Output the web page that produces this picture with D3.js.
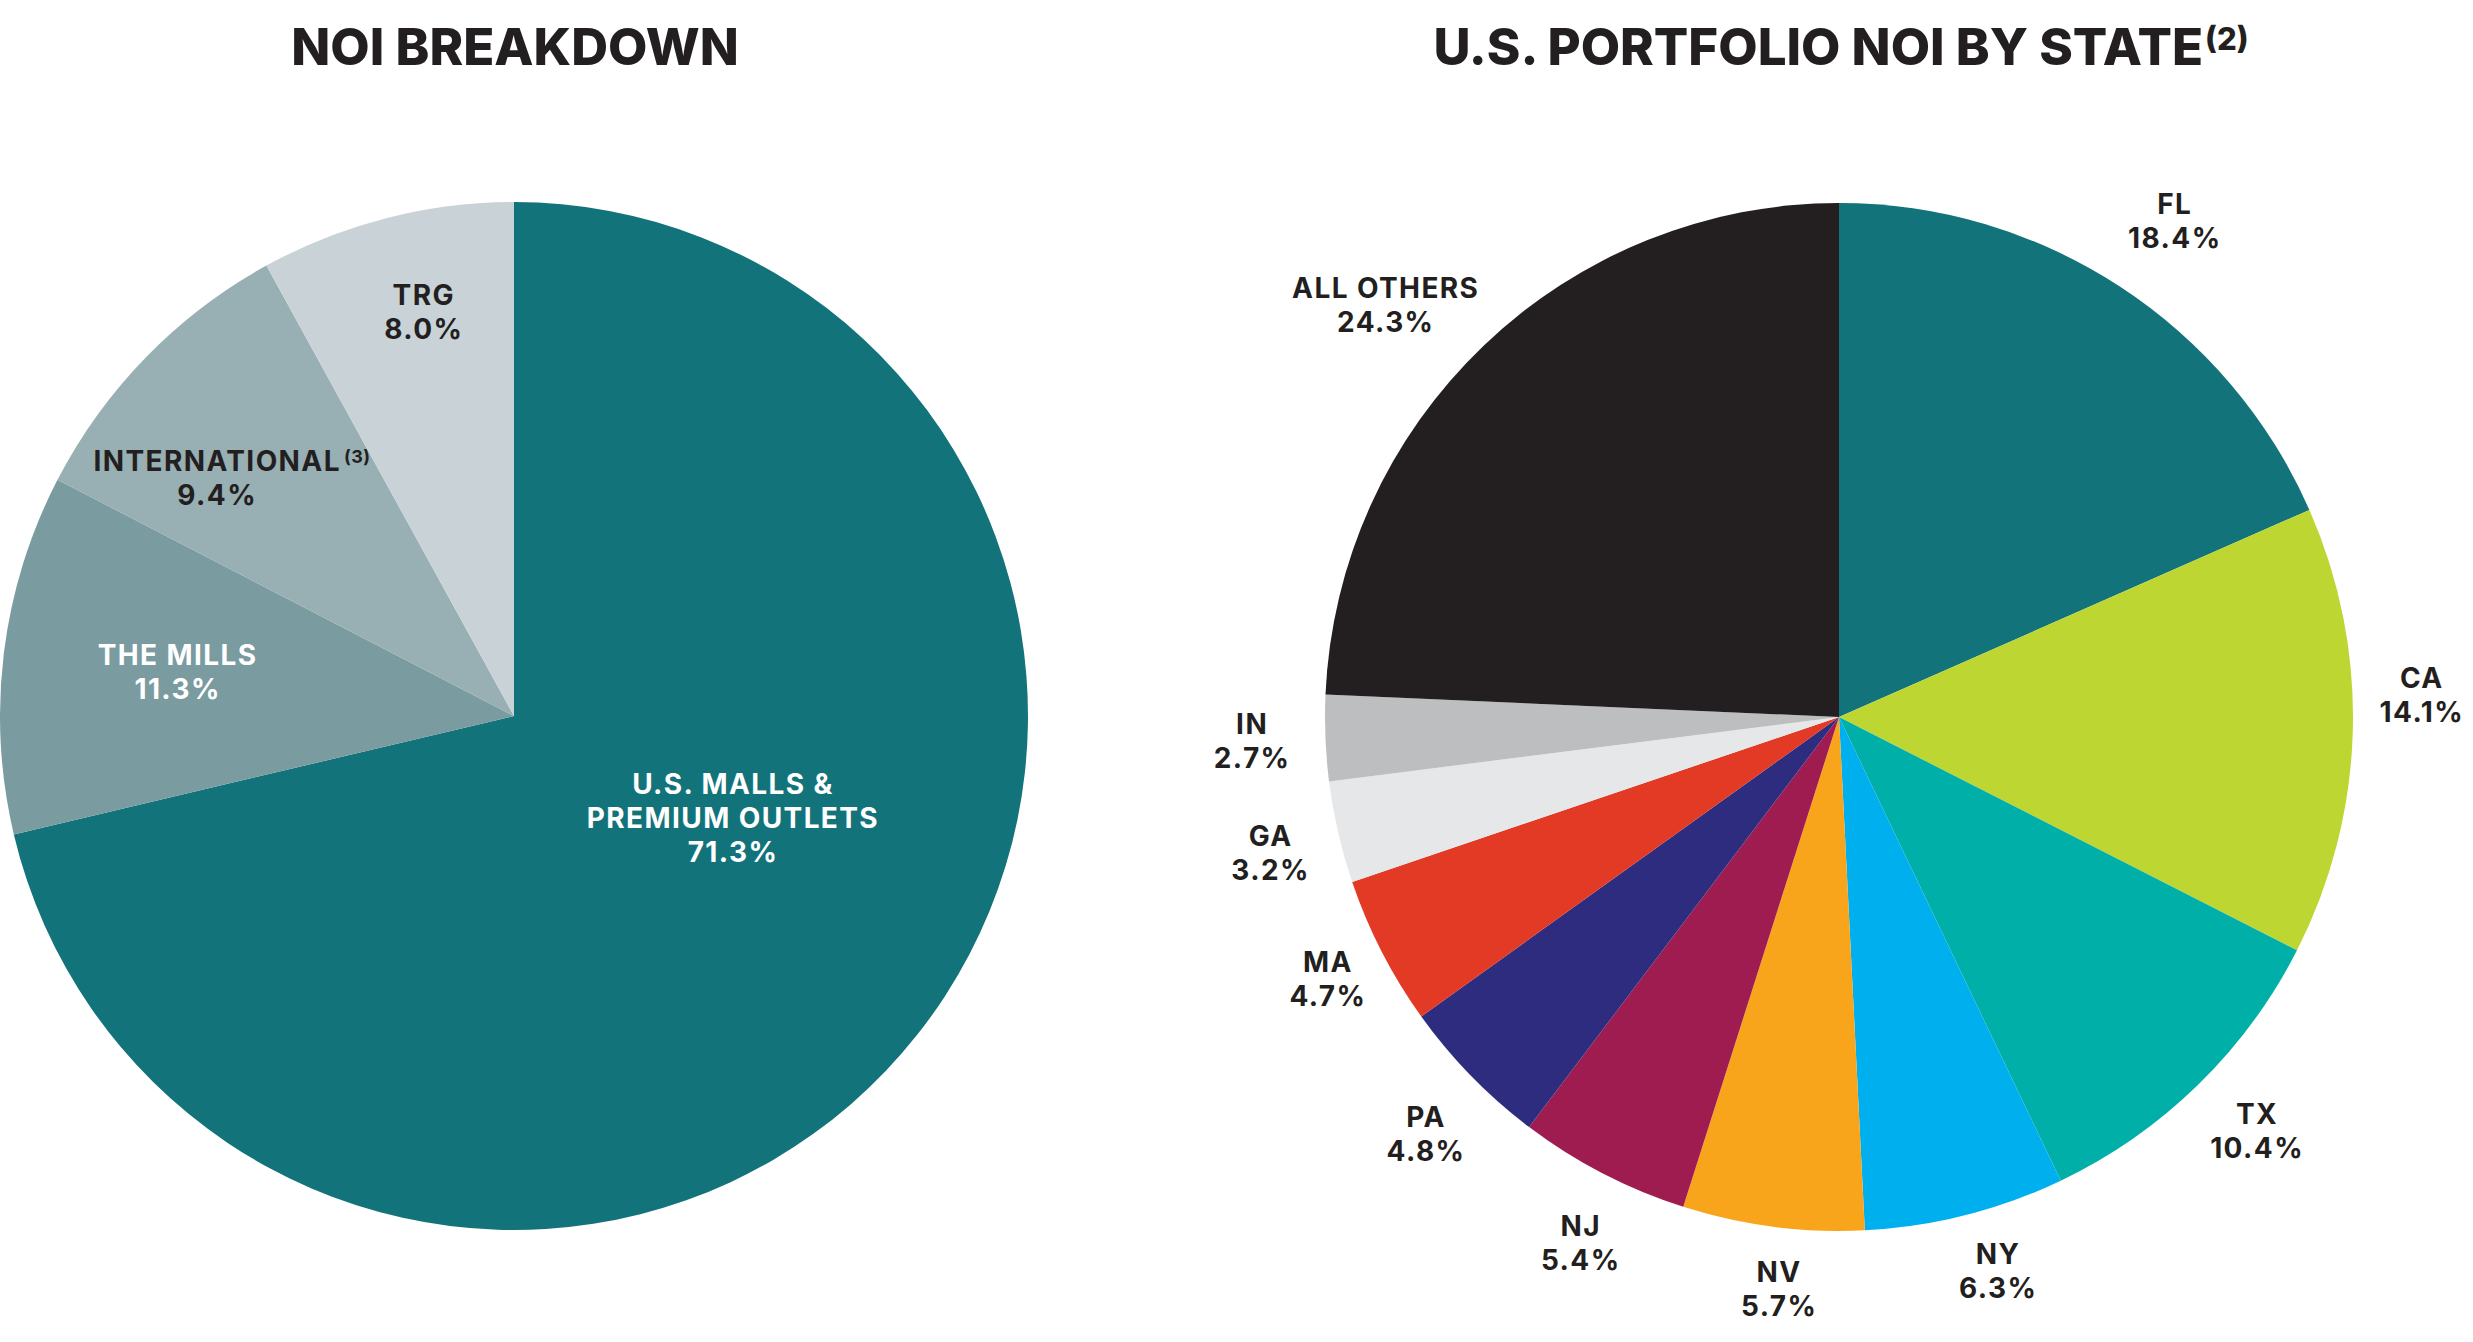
<!DOCTYPE html>
<html lang="en">
<head>
  <meta charset="UTF-8">
  <title>NOI Breakdown</title>
  <script src="https://d3js.org/d3.v7.min.js"></script>
  <style>
    body {
      margin: 0;
      background: #ffffff;
      font-family: 'Inter', 'Lato', sans-serif;
    }
    svg { display: block; }
    .title { font-weight: 800; fill: #231f20; }
    .lbl { font-weight: 700; letter-spacing: 1.4px; }
  </style>
</head>
<body>
  <div id="chart"></div>

  <script>
    // NOI breakdown (left pie)
    const noiNames = [["U.S. MALLS &", "PREMIUM OUTLETS"], ["THE MILLS"], ["INTERNATIONAL"], ["TRG"]];
    const noiNotes = ["", "", "(3)", ""];
    const noiValues = [71.3, 11.3, 9.4, 8.0];
    const noiColors = ["#13737a", "#7a9ba0", "#98afb3", "#c9d3d7"];
    const noiText = ["#ffffff", "#ffffff", "#231f20", "#231f20"];

    // U.S. portfolio NOI by state (right pie)
    const states = ["FL", "CA", "TX", "NY", "NV", "NJ", "PA", "MA", "GA", "IN", "ALL OTHERS"];
    const stateValues = [18.4, 14.1, 10.4, 6.3, 5.7, 5.4, 4.8, 4.7, 3.2, 2.7, 24.3];
    const stateColors = ["#13737a", "#bdd631", "#00b0a8", "#00b0ee", "#f9a51b", "#9e1c50",
                         "#2e2c7e", "#e23a24", "#e6e7e8", "#bcbec0", "#231f20"];

    // where the labels sit inside the left pie: [radius factor, angle in degrees]
    const noiLabelPos = [[0.47, 115], [0.66, 277.4], [0.74, 308.7], [0.805, 347.4]];
    // hand nudges for the outside labels: [degrees, px]
    const stateNudge = {
      "FL": [1, 10], "CA": [-3.8, 0], "TX": [-1, -4], "NY": [-1.8, 0], "NV": [-1.4, 4],
      "NJ": [-1.2, 4], "PA": [-1, 0], "MA": [0, -12], "GA": [-0.5, 0], "IN": [0, 8],
      "ALL OTHERS": [-4, -15]
    };

    const W = 2473, H = 1342;
    const R = 514;
    const lineH = 34;
    const fmt = d3.format(".1f");

    const svg = d3.select("#chart").append("svg").attr("width", W).attr("height", H);

    // ---- titles
    svg.append("text").attr("class", "title")
      .attr("x", 515).attr("y", 65)
      .attr("text-anchor", "middle")
      .style("font-size", "51px")
      .text("NOI BREAKDOWN");

    const t2 = svg.append("text").attr("class", "title")
      .attr("x", 1841).attr("y", 65)
      .attr("text-anchor", "middle")
      .style("font-size", "51px");
    t2.append("tspan").text("U.S. PORTFOLIO NOI BY STATE");
    t2.append("tspan").attr("dx", 2).attr("dy", -15).style("font-size", "31px").text("(2)");

    const pie = d3.pie().sort(null).value(d => d);
    const arc = d3.arc().innerRadius(0).outerRadius(R);

    // ---- left pie
    const g1 = svg.append("g").attr("transform", "translate(514,716)");
    const arcs1 = pie(noiValues);
    g1.selectAll("path").data(arcs1).enter().append("path")
      .attr("d", arc)
      .attr("fill", (d, i) => noiColors[i]);

    arcs1.forEach((d, i) => {
      const [rf, deg] = noiLabelPos[i];
      const a = deg * Math.PI / 180;
      const cx = Math.sin(a) * R * rf, cy = -Math.cos(a) * R * rf;
      const lines = noiNames[i].concat([fmt(noiValues[i]) + "%"]);
      const y0 = cy - (lines.length - 1) * lineH / 2 + 10;
      lines.forEach((s, k) => {
        const t = g1.append("text").attr("class", "lbl")
          .attr("x", cx).attr("y", y0 + k * lineH)
          .attr("text-anchor", "middle")
          .style("font-size", "28px")
          .attr("fill", noiText[i])
          .text(s);
        if (k === 0 && noiNotes[i]) {
          const len = t.node().getComputedTextLength();
          g1.append("text").attr("class", "lbl")
            .attr("x", cx + len / 2 + 3).attr("y", y0 - 8)
            .style("font-size", "18px")
            .style("letter-spacing", "0.5px")
            .attr("fill", noiText[i])
            .text(noiNotes[i]);
        }
      });
    });

    // ---- right pie
    const g2 = svg.append("g").attr("transform", "translate(1839,717)");
    const arcs2 = pie(stateValues);
    g2.selectAll("path").data(arcs2).enter().append("path")
      .attr("d", arc)
      .attr("fill", (d, i) => stateColors[i]);

    arcs2.forEach((d, i) => {
      const nudge = stateNudge[states[i]] || [0, 0];
      const a = (d.startAngle + d.endAngle) / 2 + nudge[0] * Math.PI / 180;
      const lab = g2.append("g");
      [states[i], fmt(stateValues[i]) + "%"].forEach((s, k) => {
        lab.append("text").attr("class", "lbl")
          .attr("x", 0).attr("y", k * lineH)
          .attr("text-anchor", "middle")
          .style("font-size", "28px")
          .attr("fill", "#231f20")
          .text(s);
      });
      // push the label block just clear of the rim
      const bb = lab.node().getBBox();
      const ext = Math.abs(Math.sin(a)) * bb.width / 2 + Math.abs(Math.cos(a)) * 27;
      const r = R + 26 + ext + nudge[1];
      const cx = Math.sin(a) * r, cy = -Math.cos(a) * r;
      lab.attr("transform", `translate(${cx},${cy - lineH / 2 + 10})`);
    });
  </script>
</body>
</html>
